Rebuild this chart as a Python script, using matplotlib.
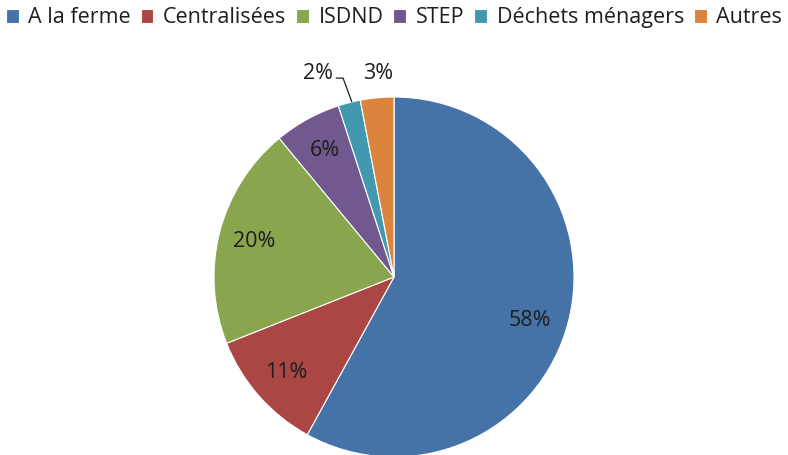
import matplotlib.pyplot as plt

#========================================================
# Data
categories = ["A la ferme", "Centralisées", "ISDND", "STEP", "Déchets ménagers", "Autres"]
shares     = [58, 11, 20, 6, 2, 3]
colors     = ["#4572A7", "#AA4643", "#89A54E", "#71588F", "#4198AF", "#DB843D"]

plt.rcParams['font.family'] = ['Open Sans', 'DejaVu Sans']
FS = 15.5
TXT = "#1e1e1e"

fig = plt.figure(figsize=(7.88, 4.55), dpi=100)
ax  = fig.add_axes([214/788, -2/455, 360/788, 360/455])

wedges, texts, autotexts = ax.pie(
    shares, colors=colors, startangle=90, counterclock=False,
    autopct=lambda p: f"{p:.0f}%", pctdistance=0.8,
    wedgeprops=dict(edgecolor="white", linewidth=0.8),
    textprops=dict(fontsize=FS, color=TXT))
ax.set_xlim(-1, 1)
ax.set_ylim(-1, 1)
ax.set_aspect("equal")

# small slices: labels outside, 2% with a leader line
for i in (4, 5):
    autotexts[i].set_visible(False)
ax.text(-0.42, 1.13, "2%", fontsize=FS, color=TXT, ha="center", va="center")
ax.plot([-0.32, -0.283, -0.235], [1.105, 1.105, 0.975], color=TXT, lw=0.9, clip_on=False)
ax.text(-0.09, 1.13, "3%", fontsize=FS, color=TXT, ha="center", va="center")
autotexts[0].set_position((0.755, -0.244))

fig.legend(wedges, categories, loc="upper center", bbox_to_anchor=(0.5, 1.012), ncol=6,
           frameon=False, fontsize=FS, handlelength=0.6, handleheight=0.6,
           handletextpad=0.45, columnspacing=0.45, borderaxespad=0.2,
           labelcolor=TXT)

plt.savefig("out.png", dpi=100)
